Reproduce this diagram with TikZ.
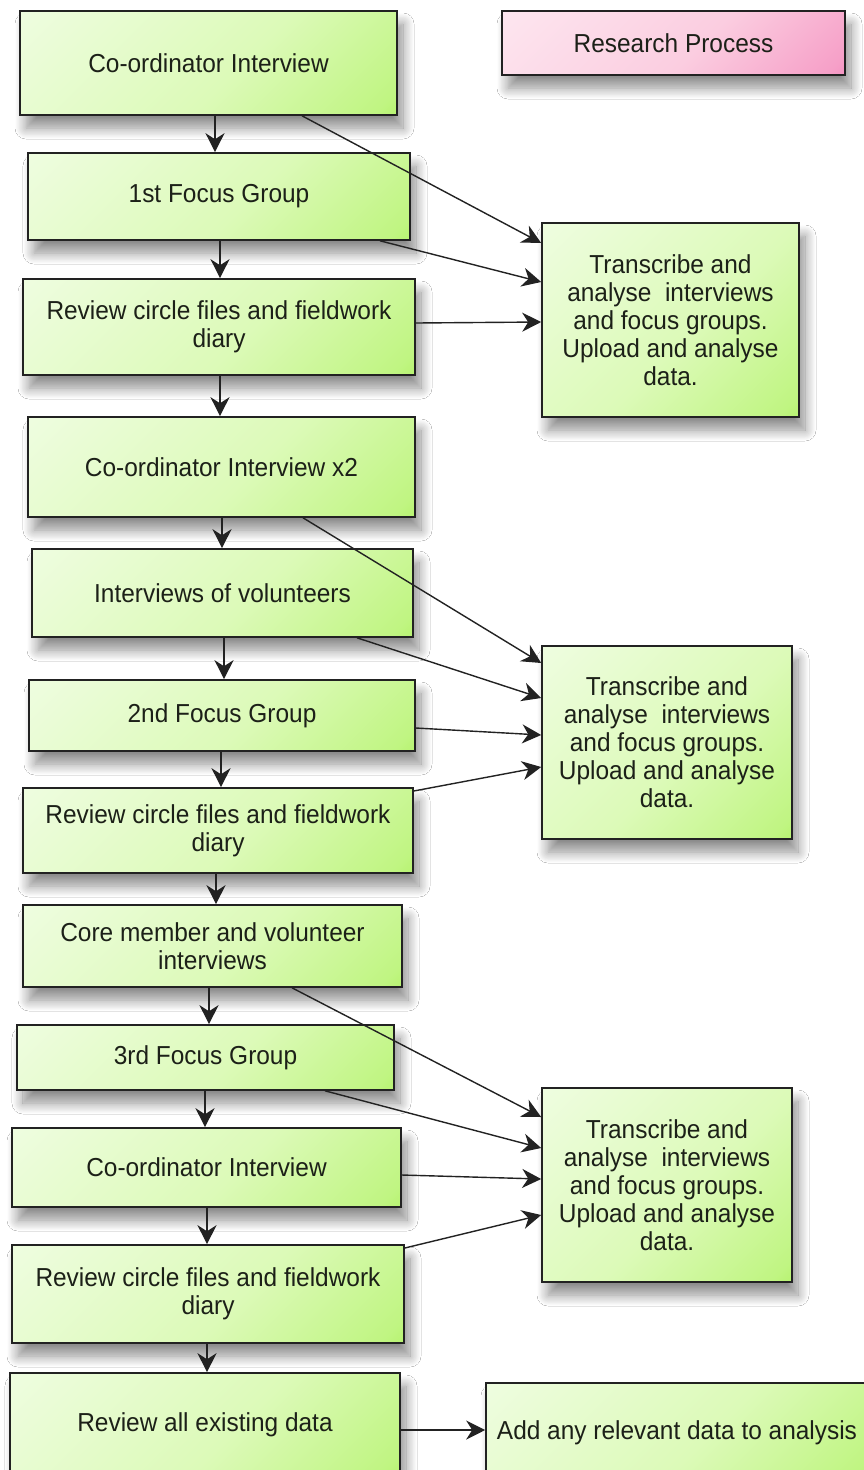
\documentclass[tikz,border=0pt]{standalone}
\usepackage{fontspec}
\setmainfont[FakeStretch=0.94]{Liberation Sans}
\usetikzlibrary{arrows.meta,shadows.blur}

% palette
\definecolor{gB}{HTML}{94EC2A}
\definecolor{gM}{HTML}{C0F582}
\definecolor{gL}{HTML}{DCFAB8}
\definecolor{gP}{HTML}{F5FEEE}
\definecolor{pB}{HTML}{EE62AC}
\definecolor{pM}{HTML}{F6A0C8}
\definecolor{pL}{HTML}{FBCDE0}
\definecolor{pP}{HTML}{FEEFF5}
\definecolor{edge}{HTML}{222222}
\definecolor{txt}{HTML}{1C2018}

% diagonal fills: pale towards the top left, saturated at the bottom right
\pgfdeclareverticalshading{greenbox}{100bp}{color(0bp)=(gB); color(18bp)=(gM); color(45bp)=(gL); color(100bp)=(gP)}
\pgfdeclareverticalshading{pinkbox}{100bp}{color(0bp)=(pB); color(18bp)=(pM); color(45bp)=(pL); color(100bp)=(pP)}

\begin{document}
\begin{tikzpicture}[x=1pt,y=-1pt,
  box/.style={draw=edge, line width=1.6pt, shading=greenbox, shading angle=45,
    blur shadow={shadow xshift=6pt, shadow yshift=-13pt, shadow blur radius=11pt,
      shadow blur steps=14, shadow opacity=45},
    text=txt, font=\fontsize{26}{28}\selectfont, align=center, inner sep=0pt},
  titlebox/.style={box, shading=pinkbox},
  arr/.style={draw=edge, line width=1.4pt, -{Stealth[length=19pt,width=19pt,inset=6pt]}}]

\fill[white] (0,0) rectangle (864,1470);
\useasboundingbox (0,0) rectangle (864,1470);

% main sequence
\node[box, minimum width=377pt, minimum height=104pt] (ci1) at (208.5,63)   {Co-ordinator Interview};
\node[box, minimum width=382pt, minimum height=87pt]  (fg1) at (219,196.5)  {1st Focus Group};
\node[box, minimum width=392pt, minimum height=96pt]  (rv1) at (219,327)    {Review circle files and fieldwork\\diary};
\node[box, minimum width=387pt, minimum height=100pt] (ci2) at (221.5,467)  {Co-ordinator Interview x2};
\node[box, minimum width=381pt, minimum height=88pt]  (iv)  at (222.5,593)  {Interviews of volunteers};
\node[box, minimum width=386pt, minimum height=71pt]  (fg2) at (222,715.5)  {2nd Focus Group};
\node[box, minimum width=390pt, minimum height=85pt]  (rv2) at (218,830.5)  {Review circle files and fieldwork\\diary};
\node[box, minimum width=379pt, minimum height=82pt]  (cm)  at (212.5,946)  {Core member and volunteer\\interviews};
\node[box, minimum width=377pt, minimum height=65pt]  (fg3) at (205.5,1057.5){3rd Focus Group};
\node[box, minimum width=389pt, minimum height=79pt]  (ci3) at (206.5,1167.5){Co-ordinator Interview};
\node[box, minimum width=392pt, minimum height=98pt]  (rv3) at (208,1294)   {Review circle files and fieldwork\\diary};
\node[box, minimum width=390pt, minimum height=104pt] (ra)  at (205,1425)   {Review all existing data};
\node[box, minimum width=382pt, minimum height=100pt] (add) at (677,1433)   {Add any relevant data to analysis};

% analysis boxes
\node[box, minimum width=257pt, minimum height=194pt] (r1) at (670.5,320)
  {Transcribe and\\analyse\ \ interviews\\and focus groups.\\Upload and analyse\\data.};
\node[box, minimum width=250pt, minimum height=193pt] (r2) at (667,742.5)
  {Transcribe and\\analyse\ \ interviews\\and focus groups.\\Upload and analyse\\data.};
\node[box, minimum width=250pt, minimum height=194pt] (r3) at (667,1185)
  {Transcribe and\\analyse\ \ interviews\\and focus groups.\\Upload and analyse\\data.};

% heading
\node[titlebox, minimum width=343pt, minimum height=64pt] (ttl) at (673.5,43) {Research Process};

% sequence arrows
\draw[arr] (ci1.south -| 215,0) -- (fg1.north -| 215,0);
\draw[arr] (fg1.south -| 220,0) -- (rv1.north -| 220,0);
\draw[arr] (rv1.south -| 220,0) -- (ci2.north -| 220,0);
\draw[arr] (ci2.south -| 222,0) -- (iv.north -| 222,0);
\draw[arr] (iv.south -| 224,0)  -- (fg2.north -| 224,0);
\draw[arr] (fg2.south -| 221,0) -- (rv2.north -| 221,0);
\draw[arr] (rv2.south -| 216,0) -- (cm.north -| 216,0);
\draw[arr] (cm.south -| 209,0)  -- (fg3.north -| 209,0);
\draw[arr] (fg3.south -| 205,0) -- (ci3.north -| 205,0);
\draw[arr] (ci3.south -| 207,0) -- (rv3.north -| 207,0);
\draw[arr] (rv3.south -| 207,0) -- (ra.north -| 207,0);

% into the first analysis box
\draw[arr] (ci1.south -| 302,0) -- (r1.west |- 0,243);
\draw[arr] (fg1.south -| 380,0) -- (r1.west |- 0,282);
\draw[arr] (rv1.east |- 0,323)  -- (r1.west |- 0,322);

% into the second analysis box
\draw[arr] (ci2.south -| 303,0) -- (r2.west |- 0,663);
\draw[arr] (iv.south -| 357,0)  -- (r2.west |- 0,698);
\draw[arr] (fg2.east |- 0,728)  -- (r2.west |- 0,735);
\draw[arr] (rv2.east |- 0,791)  -- (r2.west |- 0,767);

% into the third analysis box
\draw[arr] (cm.south -| 292,0)  -- (r3.west |- 0,1117);
\draw[arr] (fg3.south -| 325,0) -- (r3.west |- 0,1148);
\draw[arr] (ci3.east |- 0,1175) -- (r3.west |- 0,1179);
\draw[arr] (rv3.east |- 0,1248) -- (r3.west |- 0,1215);

% final step
\draw[arr] (ra.east |- 0,1430) -- (add.west |- 0,1430);
\end{tikzpicture}
\end{document}
